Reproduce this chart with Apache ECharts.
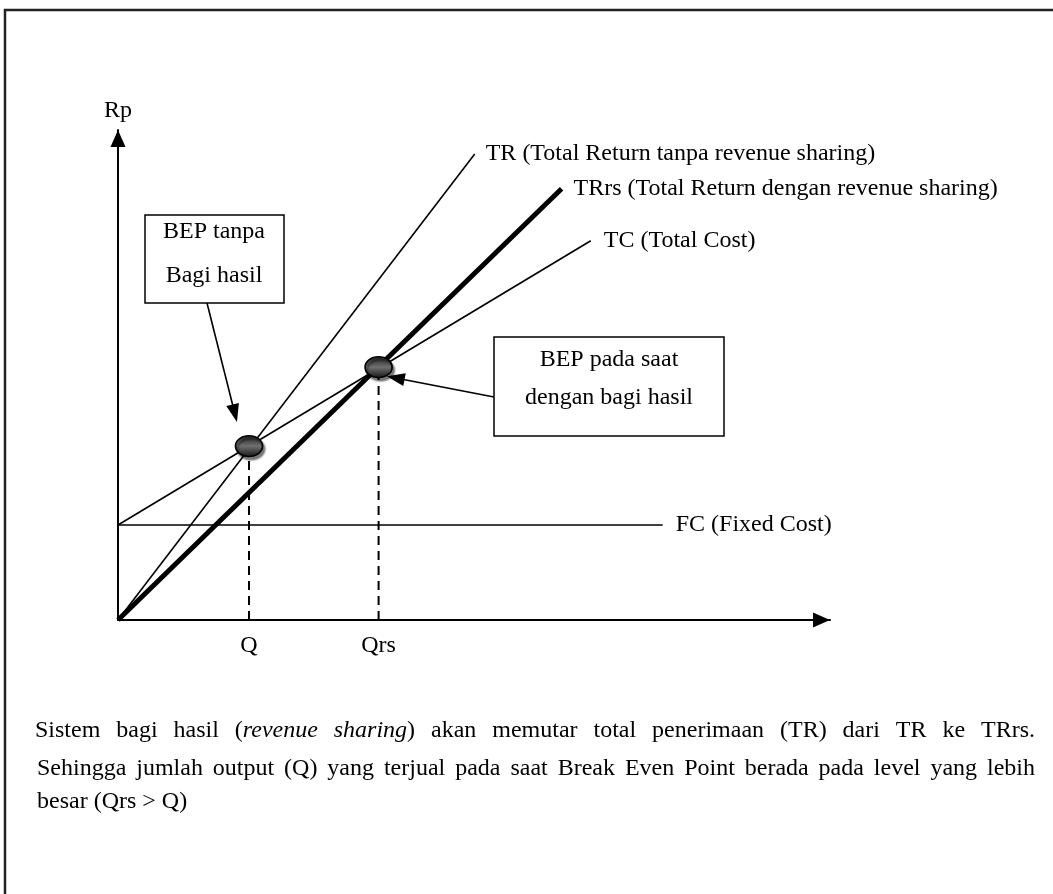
<!DOCTYPE html>
<html>
<head>
<meta charset="utf-8">
<script src="https://cdn.jsdelivr.net/npm/echarts@6/dist/echarts.min.js"></script>
<style>
html,body{margin:0;padding:0;background:#fff;}
#c{width:1053px;height:894px;}
</style>
</head>
<body>
<div id="c"></div>
<script>
// ---- data (in axis units) ----
const trLine   = [[0, 0], [50.1, 95.1]];
const trrsLine = [[0, 0], [62.3, 88.0]];
const tcLine   = [[0, 19.4], [66.4, 77.4]];
const fcLine   = [[0, 19.4], [76.5, 19.4]];
const bepPoints = [[18.4, 35.5], [36.6, 51.6]];
const qLabels = ['Q', 'Qrs'];
const lineNames = {
  tr: 'TR (Total Return tanpa revenue sharing)',
  trrs: 'TRrs (Total Return dengan revenue sharing)',
  tc: 'TC (Total Cost)',
  fc: 'FC (Fixed Cost)'
};
// annotation arrows: [start, arrowhead centre]
const arrowBEP1 = [[12.5, 64.7], [16.4, 42.2]];
const arrowBEP2 = [[52.8, 45.5], [39.0, 49.4]];
const box1Text = ['BEP tanpa', 'Bagi hasil'];
const box2Text = ['BEP pada saat', 'dengan bagi hasil'];
const captionLines = [
  [[['Sistem',0]],[['bagi',0]],[['hasil',0]],[['(',0],['revenue',1]],[['sharing',1],[')',0]],[['akan',0]],[['memutar',0]],[['total',0]],[['penerimaan',0]],[['(TR)',0]],[['dari',0]],[['TR',0]],[['ke',0]],[['TRrs.',0]]],
  'Sehingga jumlah output (Q) yang terjual pada saat Break Even Point berada pada level yang lebih',
  'besar (Qrs > Q)'
];

const FONT = 'Liberation Serif, Times New Roman, serif';
const FS = 24;

const chart = echarts.init(document.getElementById('c'));

function lineSeries(data, width, label, dist) {
  return {
    type: 'line', data: data, symbol: 'none', silent: true,
    lineStyle: {color: '#000', width: width},
    endLabel: {show: true, formatter: label, distance: dist,
      fontFamily: FONT, fontSize: FS, color: '#000'}
  };
}

// caption words (justified)
const ctx = document.createElement('canvas').getContext('2d');
function segWidth(t, it) { ctx.font = (it ? 'italic ' : '') + FS + 'px ' + FONT; return ctx.measureText(t).width; }
const captionGraphics = [];
function layoutLine(words, x0, x1, y, justify) {
  const widths = words.map(w => w.reduce((s, sg) => s + segWidth(sg[0], sg[1]), 0));
  const total = widths.reduce((a, b) => a + b, 0);
  const gap = justify ? (x1 - x0 - total) / (words.length - 1) : segWidth(' ', 0);
  let x = x0;
  words.forEach((w, i) => {
    let sx = x;
    w.forEach(sg => {
      captionGraphics.push({type: 'text', x: sx, y: y, silent: true,
        style: {text: sg[0], fontFamily: FONT, fontSize: FS, fontStyle: sg[1] ? 'italic' : 'normal',
          fill: '#000', verticalAlign: 'middle', align: 'left'}});
      sx += segWidth(sg[0], sg[1]);
    });
    x += widths[i] + gap;
  });
}
const toWords = s => s.split(' ').map(w => [[w, 0]]);
layoutLine(captionLines[0], 35, 1035, 731, true);
layoutLine(toWords(captionLines[1]), 37, 1035, 769, true);
layoutLine(toWords(captionLines[2]), 37, 1035, 802, false);

function boxText(lines, cx, ys) {
  return lines.map((t, i) => ({type: 'text', x: cx, y: ys[i], silent: true,
    style: {text: t, fontFamily: FONT, fontSize: FS, fill: '#000', align: 'center', verticalAlign: 'middle'}}));
}

const axisLineStyle = {show: true, onZero: false, symbol: ['none', 'triangle'], symbolSize: [15, 17],
  symbolOffset: [0, -8.5], lineStyle: {color: '#000', width: 2}};

const option = {
  animation: false,
  backgroundColor: '#fff',
  grid: {left: 118, right: 223, top: 130, bottom: 274, containLabel: false},
  xAxis: {
    type: 'value', min: 0, max: 100,
    axisLine: axisLineStyle,
    axisTick: {show: false}, axisLabel: {show: false}, splitLine: {show: false}
  },
  yAxis: {
    type: 'value', min: 0, max: 100,
    name: 'Rp', nameLocation: 'end', nameGap: 7,
    nameTextStyle: {fontFamily: FONT, fontSize: FS, color: '#000'},
    axisLine: axisLineStyle,
    axisTick: {show: false}, axisLabel: {show: false}, splitLine: {show: false}
  },
  series: [
    lineSeries(fcLine, 1.6, lineNames.fc, 13),
    lineSeries(tcLine, 1.6, lineNames.tc, 13),
    lineSeries(trLine, 1.6, lineNames.tr, 11),
    lineSeries(trrsLine, 5, lineNames.trrs, 12),
    {
      type: 'line', symbol: 'none', silent: true, data: [],
      markLine: {
        silent: true, symbol: ['none', 'triangle'], symbolSize: [13, 18],
        label: {show: false},
        lineStyle: {color: '#000', width: 1.6, type: 'solid'},
        emphasis: {disabled: true},
        data: [
          [{coord: arrowBEP1[0]}, {coord: arrowBEP1[1]}],
          [{coord: arrowBEP2[0]}, {coord: arrowBEP2[1]}]
        ]
      }
    },
    ...bepPoints.map((p, i) => ({
      type: 'line', symbol: 'none', silent: true,
      data: [[p[0], 0], [p[0], p[1]]],
      lineStyle: {color: '#000', width: 2, type: [9, 6]}
    })),
    {
      type: 'scatter', silent: true, symbolSize: 0,
      data: bepPoints.map((p, i) => ({value: [p[0], 0], name: qLabels[i]})),
      itemStyle: {opacity: 1},
      label: {show: true, position: 'bottom', distance: 14, formatter: '{b}',
        fontFamily: FONT, fontSize: FS, color: '#000'}
    },
    {
      type: 'scatter', silent: true, symbol: 'circle', symbolSize: [27, 21], z: 5,
      data: bepPoints,
      itemStyle: {
        opacity: 1,
        color: new echarts.graphic.LinearGradient(0, 0, 0, 1, [
          {offset: 0, color: '#1a1a1a'}, {offset: 0.5, color: '#707070'}, {offset: 1, color: '#111'}
        ]),
        borderColor: '#000', borderWidth: 1.5,
        shadowColor: 'rgba(0,0,0,0.5)', shadowBlur: 2, shadowOffsetX: 2, shadowOffsetY: 3
      }
    }
  ],
  graphic: [
    {type: 'rect', silent: true, shape: {x: 5, y: 10, width: 1100, height: 950},
      style: {fill: 'none', stroke: '#222', lineWidth: 2.5}},
    {type: 'rect', silent: true, shape: {x: 145, y: 215, width: 139, height: 88},
      style: {fill: '#fff', stroke: '#000', lineWidth: 1.5}},
    ...boxText(box1Text, 214, [232, 276]),
    {type: 'rect', silent: true, shape: {x: 494, y: 337, width: 230, height: 99},
      style: {fill: '#fff', stroke: '#000', lineWidth: 1.5}},
    ...boxText(box2Text, 609, [360, 398]),
    ...captionGraphics
  ]
};
chart.setOption(option);
</script>
</body>
</html>
